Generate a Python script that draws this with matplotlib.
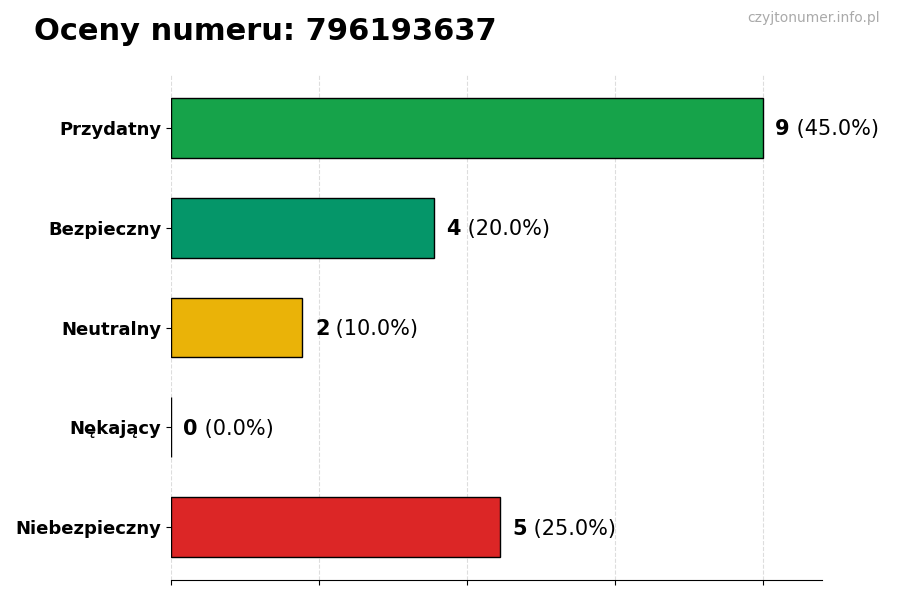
import numpy as np
from matplotlib import pyplot as plt

# data
categories = ['Niebezpieczny', 'Nękający', 'Neutralny', 'Bezpieczny', 'Przydatny']
counts = [5, 0, 2, 4, 9]
colors = ['#dc2626', '#6b7280', '#eab308', '#059669', '#16a34a']
number = '796193637'

total = sum(counts)
max_val = max(counts)

fig = plt.figure(figsize=(9, 6), dpi=100)
ax = fig.add_axes([0.19, 0.0333, 0.723, 0.8417])

y = np.arange(len(categories))
ax.barh(y, counts, height=0.6, color=colors, edgecolor='black', linewidth=1, zorder=3)

ax.set_xlim(0, max_val * 1.1)
ax.set_xticks(np.linspace(0, max_val, 5))
ax.set_xticklabels([])
ax.set_yticks(y)
ax.set_yticklabels(categories, fontsize=13, fontweight='bold')
ax.grid(axis='x', linestyle='--', color='#dddddd', linewidth=0.8, zorder=0)

for s in ['top', 'right', 'left']:
    ax.spines[s].set_visible(False)

# value labels
for yi, c in zip(y, counts):
    pct = c / total * 100
    t = ax.annotate(str(c), xy=(c, yi), xytext=(9, -1), textcoords='offset points',
                    fontsize=15, fontweight='bold', va='center', ha='left')
    ax.annotate(' (%.1f%%)' % pct, xy=(1, 0), xycoords=t, va='bottom', ha='left',
                fontsize=15)

fig.text(0.038, 0.948, 'Oceny numeru: ' + number, fontsize=22, fontweight='bold',
         ha='left', va='center')
fig.text(0.978, 0.970, 'czyjtonumer.info.pl', fontsize=10, color='#aaaaaa',
         ha='right', va='center')

fig.savefig('out.png')
